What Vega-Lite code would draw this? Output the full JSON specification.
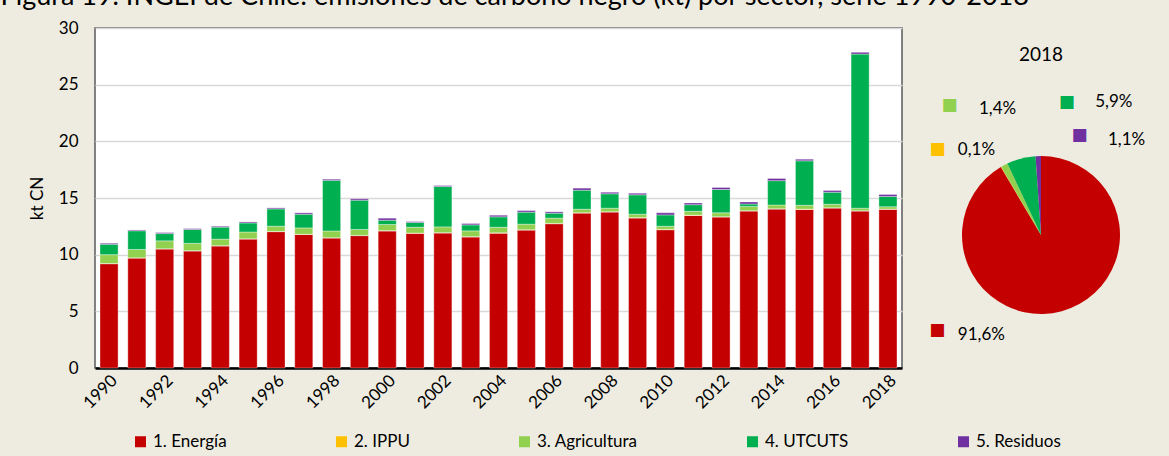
{
  "$schema": "https://vega.github.io/schema/vega-lite/v6.json",
  "background": "#EEECE1",
  "padding": {"left": 0, "top": -17, "right": 20, "bottom": 12},
  "bounds": "flush",
  "spacing": 23,
  "config": {
    "font": "Lato",
    "axis": {"labelFont": "Lato", "titleFont": "Lato", "labelColor": "black", "titleColor": "black"},
    "legend": {"labelFont": "Lato", "labelColor": "black"}
  },
  "title": {
    "text": "Figura 19. INGEI de Chile: emisiones de carbono negro (kt) por sector, serie 1990-2018",
    "anchor": "start",
    "frame": "bounds",
    "fontSize": 27,
    "fontWeight": "normal",
    "font": "Lato",
    "color": "black",
    "offset": 7,
    "dx": -27
  },
  "datasets": {
    "series": [
      {"year":1990,"sector":"1. Energía","value":9.2},{"year":1990,"sector":"2. IPPU","value":0.02},{"year":1990,"sector":"3. Agricultura","value":0.78},{"year":1990,"sector":"4. UTCUTS","value":0.92},{"year":1990,"sector":"5. Residuos","value":0.09},
      {"year":1991,"sector":"1. Energía","value":9.7},{"year":1991,"sector":"2. IPPU","value":0.02},{"year":1991,"sector":"3. Agricultura","value":0.74},{"year":1991,"sector":"4. UTCUTS","value":1.65},{"year":1991,"sector":"5. Residuos","value":0.07},
      {"year":1992,"sector":"1. Energía","value":10.5},{"year":1992,"sector":"2. IPPU","value":0.02},{"year":1992,"sector":"3. Agricultura","value":0.7},{"year":1992,"sector":"4. UTCUTS","value":0.64},{"year":1992,"sector":"5. Residuos","value":0.09},
      {"year":1993,"sector":"1. Energía","value":10.33},{"year":1993,"sector":"2. IPPU","value":0.02},{"year":1993,"sector":"3. Agricultura","value":0.65},{"year":1993,"sector":"4. UTCUTS","value":1.22},{"year":1993,"sector":"5. Residuos","value":0.08},
      {"year":1994,"sector":"1. Energía","value":10.77},{"year":1994,"sector":"2. IPPU","value":0.02},{"year":1994,"sector":"3. Agricultura","value":0.58},{"year":1994,"sector":"4. UTCUTS","value":1.06},{"year":1994,"sector":"5. Residuos","value":0.08},
      {"year":1995,"sector":"1. Energía","value":11.38},{"year":1995,"sector":"2. IPPU","value":0.02},{"year":1995,"sector":"3. Agricultura","value":0.6},{"year":1995,"sector":"4. UTCUTS","value":0.8},{"year":1995,"sector":"5. Residuos","value":0.09},
      {"year":1996,"sector":"1. Energía","value":12.03},{"year":1996,"sector":"2. IPPU","value":0.02},{"year":1996,"sector":"3. Agricultura","value":0.46},{"year":1996,"sector":"4. UTCUTS","value":1.53},{"year":1996,"sector":"5. Residuos","value":0.09},
      {"year":1997,"sector":"1. Energía","value":11.78},{"year":1997,"sector":"2. IPPU","value":0.02},{"year":1997,"sector":"3. Agricultura","value":0.56},{"year":1997,"sector":"4. UTCUTS","value":1.21},{"year":1997,"sector":"5. Residuos","value":0.12},
      {"year":1998,"sector":"1. Energía","value":11.47},{"year":1998,"sector":"2. IPPU","value":0.02},{"year":1998,"sector":"3. Agricultura","value":0.6},{"year":1998,"sector":"4. UTCUTS","value":4.47},{"year":1998,"sector":"5. Residuos","value":0.1},
      {"year":1999,"sector":"1. Energía","value":11.68},{"year":1999,"sector":"2. IPPU","value":0.02},{"year":1999,"sector":"3. Agricultura","value":0.52},{"year":1999,"sector":"4. UTCUTS","value":2.59},{"year":1999,"sector":"5. Residuos","value":0.12},
      {"year":2000,"sector":"1. Energía","value":12.09},{"year":2000,"sector":"2. IPPU","value":0.03},{"year":2000,"sector":"3. Agricultura","value":0.54},{"year":2000,"sector":"4. UTCUTS","value":0.38},{"year":2000,"sector":"5. Residuos","value":0.18},
      {"year":2001,"sector":"1. Energía","value":11.88},{"year":2001,"sector":"2. IPPU","value":0.03},{"year":2001,"sector":"3. Agricultura","value":0.51},{"year":2001,"sector":"4. UTCUTS","value":0.42},{"year":2001,"sector":"5. Residuos","value":0.08},
      {"year":2002,"sector":"1. Energía","value":11.91},{"year":2002,"sector":"2. IPPU","value":0.03},{"year":2002,"sector":"3. Agricultura","value":0.51},{"year":2002,"sector":"4. UTCUTS","value":3.56},{"year":2002,"sector":"5. Residuos","value":0.09},
      {"year":2003,"sector":"1. Energía","value":11.56},{"year":2003,"sector":"2. IPPU","value":0.03},{"year":2003,"sector":"3. Agricultura","value":0.51},{"year":2003,"sector":"4. UTCUTS","value":0.53},{"year":2003,"sector":"5. Residuos","value":0.12},
      {"year":2004,"sector":"1. Energía","value":11.9},{"year":2004,"sector":"2. IPPU","value":0.03},{"year":2004,"sector":"3. Agricultura","value":0.49},{"year":2004,"sector":"4. UTCUTS","value":0.92},{"year":2004,"sector":"5. Residuos","value":0.14},
      {"year":2005,"sector":"1. Energía","value":12.17},{"year":2005,"sector":"2. IPPU","value":0.03},{"year":2005,"sector":"3. Agricultura","value":0.49},{"year":2005,"sector":"4. UTCUTS","value":1.06},{"year":2005,"sector":"5. Residuos","value":0.14},
      {"year":2006,"sector":"1. Energía","value":12.73},{"year":2006,"sector":"2. IPPU","value":0.03},{"year":2006,"sector":"3. Agricultura","value":0.46},{"year":2006,"sector":"4. UTCUTS","value":0.44},{"year":2006,"sector":"5. Residuos","value":0.12},
      {"year":2007,"sector":"1. Energía","value":13.67},{"year":2007,"sector":"2. IPPU","value":0.03},{"year":2007,"sector":"3. Agricultura","value":0.31},{"year":2007,"sector":"4. UTCUTS","value":1.68},{"year":2007,"sector":"5. Residuos","value":0.18},
      {"year":2008,"sector":"1. Energía","value":13.76},{"year":2008,"sector":"2. IPPU","value":0.03},{"year":2008,"sector":"3. Agricultura","value":0.31},{"year":2008,"sector":"4. UTCUTS","value":1.27},{"year":2008,"sector":"5. Residuos","value":0.14},
      {"year":2009,"sector":"1. Energía","value":13.23},{"year":2009,"sector":"2. IPPU","value":0.04},{"year":2009,"sector":"3. Agricultura","value":0.3},{"year":2009,"sector":"4. UTCUTS","value":1.71},{"year":2009,"sector":"5. Residuos","value":0.15},
      {"year":2010,"sector":"1. Energía","value":12.2},{"year":2010,"sector":"2. IPPU","value":0.04},{"year":2010,"sector":"3. Agricultura","value":0.27},{"year":2010,"sector":"4. UTCUTS","value":1.0},{"year":2010,"sector":"5. Residuos","value":0.18},
      {"year":2011,"sector":"1. Energía","value":13.46},{"year":2011,"sector":"2. IPPU","value":0.03},{"year":2011,"sector":"3. Agricultura","value":0.33},{"year":2011,"sector":"4. UTCUTS","value":0.59},{"year":2011,"sector":"5. Residuos","value":0.15},
      {"year":2012,"sector":"1. Energía","value":13.32},{"year":2012,"sector":"2. IPPU","value":0.03},{"year":2012,"sector":"3. Agricultura","value":0.34},{"year":2012,"sector":"4. UTCUTS","value":2.06},{"year":2012,"sector":"5. Residuos","value":0.18},
      {"year":2013,"sector":"1. Energía","value":13.85},{"year":2013,"sector":"2. IPPU","value":0.03},{"year":2013,"sector":"3. Agricultura","value":0.38},{"year":2013,"sector":"4. UTCUTS","value":0.21},{"year":2013,"sector":"5. Residuos","value":0.18},
      {"year":2014,"sector":"1. Energía","value":14.02},{"year":2014,"sector":"2. IPPU","value":0.03},{"year":2014,"sector":"3. Agricultura","value":0.33},{"year":2014,"sector":"4. UTCUTS","value":2.15},{"year":2014,"sector":"5. Residuos","value":0.2},
      {"year":2015,"sector":"1. Energía","value":13.99},{"year":2015,"sector":"2. IPPU","value":0.03},{"year":2015,"sector":"3. Agricultura","value":0.34},{"year":2015,"sector":"4. UTCUTS","value":3.92},{"year":2015,"sector":"5. Residuos","value":0.15},
      {"year":2016,"sector":"1. Energía","value":14.11},{"year":2016,"sector":"2. IPPU","value":0.03},{"year":2016,"sector":"3. Agricultura","value":0.31},{"year":2016,"sector":"4. UTCUTS","value":1.06},{"year":2016,"sector":"5. Residuos","value":0.15},
      {"year":2017,"sector":"1. Energía","value":13.85},{"year":2017,"sector":"2. IPPU","value":0.03},{"year":2017,"sector":"3. Agricultura","value":0.22},{"year":2017,"sector":"4. UTCUTS","value":13.6},{"year":2017,"sector":"5. Residuos","value":0.15},
      {"year":2018,"sector":"1. Energía","value":14.0},{"year":2018,"sector":"2. IPPU","value":0.02},{"year":2018,"sector":"3. Agricultura","value":0.21},{"year":2018,"sector":"4. UTCUTS","value":0.9},{"year":2018,"sector":"5. Residuos","value":0.17}
    ],
    "pie": [
      {"sector":"1. Energía","pct":91.6,"label":"91,6%"},
      {"sector":"2. IPPU","pct":0.1,"label":"0,1%"},
      {"sector":"3. Agricultura","pct":1.4,"label":"1,4%"},
      {"sector":"4. UTCUTS","pct":5.9,"label":"5,9%"},
      {"sector":"5. Residuos","pct":1.1,"label":"1,1%"}
    ]
  },
  "resolve": {"scale": {"color": "shared"}, "legend": {"color": "shared"}},
  "hconcat": [
    {
      "width": 807,
      "height": 340,
      "view": {"fill": "white", "stroke": "#595959", "strokeWidth": 1.5},
      "data": {"name": "series"},
      "mark": {"type": "bar", "stroke": "white", "strokeWidth": 0.6, "strokeOpacity": 0.6},
      "encoding": {
        "x": {
          "field": "year", "type": "ordinal",
          "scale": {"paddingInner": 0.35, "paddingOuter": 0.18},
          "axis": {
            "title": null, "labelAngle": -45, "labelFontSize": 17, "ticks": false,
            "domainColor": "black", "domainWidth": 2.5, "labelPadding": 4,
            "values": [1990,1992,1994,1996,1998,2000,2002,2004,2006,2008,2010,2012,2014,2016,2018]
          }
        },
        "y": {
          "field": "value", "type": "quantitative", "stack": "zero",
          "scale": {"domain": [0, 30], "nice": false},
          "axis": {
            "title": "kt CN", "titleFontSize": 17, "titleFontWeight": "normal", "titlePadding": 12,
            "labelFontSize": 17, "labelPadding": 17, "ticks": false, "domain": false,
            "gridColor": "#D9D9D9", "gridWidth": 1.5, "values": [0,5,10,15,20,25,30]
          }
        },
        "color": {
          "field": "sector", "type": "nominal",
          "scale": {"domain": ["1. Energía","2. IPPU","3. Agricultura","4. UTCUTS","5. Residuos"], "range": ["#C40000","#FFC000","#92D050","#00B050","#7030A0"]},
          "legend": {
            "orient": "none", "legendX": 37, "legendY": 405, "direction": "horizontal", "columns": 5,
            "columnPadding": 106, "symbolType": "square", "symbolSize": 121, "symbolStrokeWidth": 0,
            "labelFontSize": 17, "labelOffset": 4, "title": null
          }
        },
        "order": {"field": "sector", "type": "ordinal", "sort": "ascending"}
      }
    },
    {
      "width": 232,
      "height": 414,
      "view": {"stroke": null, "fill": null},
      "data": {"name": "pie"},
      "layer": [
        {
          "mark": {"type": "arc", "outerRadius": 79},
          "encoding": {
            "theta": {"field": "pct", "type": "quantitative", "stack": true},
            "order": {"field": "sector", "type": "ordinal", "sort": "ascending"},
            "color": {"field": "sector", "type": "nominal", "legend": null,
              "scale": {"domain": ["1. Energía","2. IPPU","3. Agricultura","4. UTCUTS","5. Residuos"], "range": ["#C40000","#FFC000","#92D050","#00B050","#7030A0"]}}
          }
        },
        {
          "data": {"values": [{"t": "2018"}]},
          "mark": {"type": "text", "fontSize": 19, "align": "center", "baseline": "middle", "color": "black"},
          "encoding": {"text": {"field": "t", "type": "nominal"}, "theta": {"value": 0}, "radius": {"value": 180}}
        },
        {
          "mark": {"type": "text", "radius": 100, "dx": -86, "dy": 4, "fontSize": 17, "align": "center", "baseline": "middle", "color": "black"},
          "encoding": {
            "theta": {"field": "pct", "type": "quantitative", "stack": true},
            "order": {"field": "sector", "type": "ordinal", "sort": "ascending"},
            "text": {"condition": {"test": "datum.sector === '1. Energía'", "field": "label"}, "value": ""}
          }
        },
        {
          "mark": {"type": "text", "radius": 100, "dx": -14, "dy": 1, "fontSize": 17, "align": "center", "baseline": "middle", "color": "black"},
          "encoding": {
            "theta": {"field": "pct", "type": "quantitative", "stack": true},
            "order": {"field": "sector", "type": "ordinal", "sort": "ascending"},
            "text": {"condition": {"test": "datum.sector === '2. IPPU'", "field": "label"}, "value": ""}
          }
        },
        {
          "mark": {"type": "text", "radius": 100, "dx": 3, "dy": -37, "fontSize": 17, "align": "center", "baseline": "middle", "color": "black"},
          "encoding": {
            "theta": {"field": "pct", "type": "quantitative", "stack": true},
            "order": {"field": "sector", "type": "ordinal", "sort": "ascending"},
            "text": {"condition": {"test": "datum.sector === '3. Agricultura'", "field": "label"}, "value": ""}
          }
        },
        {
          "mark": {"type": "text", "radius": 100, "dx": 98, "dy": -36, "fontSize": 17, "align": "center", "baseline": "middle", "color": "black"},
          "encoding": {
            "theta": {"field": "pct", "type": "quantitative", "stack": true},
            "order": {"field": "sector", "type": "ordinal", "sort": "ascending"},
            "text": {"condition": {"test": "datum.sector === '4. UTCUTS'", "field": "label"}, "value": ""}
          }
        },
        {
          "mark": {"type": "text", "radius": 100, "dx": 89, "dy": 5, "fontSize": 17, "align": "center", "baseline": "middle", "color": "black"},
          "encoding": {
            "theta": {"field": "pct", "type": "quantitative", "stack": true},
            "order": {"field": "sector", "type": "ordinal", "sort": "ascending"},
            "text": {"condition": {"test": "datum.sector === '5. Residuos'", "field": "label"}, "value": ""}
          }
        },
        {
          "mark": {"type": "text", "radius": 100, "dx": -130, "dy": -1, "fontSize": 17, "font": "DejaVu Sans", "align": "center", "baseline": "middle"},
          "encoding": {
            "theta": {"field": "pct", "type": "quantitative", "stack": true},
            "order": {"field": "sector", "type": "ordinal", "sort": "ascending"},
            "color": {"field": "sector", "type": "nominal", "legend": null},
            "text": {"condition": {"test": "datum.sector === '1. Energía'", "value": "■"}, "value": ""}
          }
        },
        {
          "mark": {"type": "text", "radius": 100, "dx": -53, "dy": 0, "fontSize": 17, "font": "DejaVu Sans", "align": "center", "baseline": "middle"},
          "encoding": {
            "theta": {"field": "pct", "type": "quantitative", "stack": true},
            "order": {"field": "sector", "type": "ordinal", "sort": "ascending"},
            "color": {"field": "sector", "type": "nominal", "legend": null},
            "text": {"condition": {"test": "datum.sector === '2. IPPU'", "value": "■"}, "value": ""}
          }
        },
        {
          "mark": {"type": "text", "radius": 100, "dx": -45, "dy": -41, "fontSize": 17, "font": "DejaVu Sans", "align": "center", "baseline": "middle"},
          "encoding": {
            "theta": {"field": "pct", "type": "quantitative", "stack": true},
            "order": {"field": "sector", "type": "ordinal", "sort": "ascending"},
            "color": {"field": "sector", "type": "nominal", "legend": null},
            "text": {"condition": {"test": "datum.sector === '3. Agricultura'", "value": "■"}, "value": ""}
          }
        },
        {
          "mark": {"type": "text", "radius": 100, "dx": 51, "dy": -36, "fontSize": 17, "font": "DejaVu Sans", "align": "center", "baseline": "middle"},
          "encoding": {
            "theta": {"field": "pct", "type": "quantitative", "stack": true},
            "order": {"field": "sector", "type": "ordinal", "sort": "ascending"},
            "color": {"field": "sector", "type": "nominal", "legend": null},
            "text": {"condition": {"test": "datum.sector === '4. UTCUTS'", "value": "■"}, "value": ""}
          }
        },
        {
          "mark": {"type": "text", "radius": 100, "dx": 42, "dy": 0, "fontSize": 17, "font": "DejaVu Sans", "align": "center", "baseline": "middle"},
          "encoding": {
            "theta": {"field": "pct", "type": "quantitative", "stack": true},
            "order": {"field": "sector", "type": "ordinal", "sort": "ascending"},
            "color": {"field": "sector", "type": "nominal", "legend": null},
            "text": {"condition": {"test": "datum.sector === '5. Residuos'", "value": "■"}, "value": ""}
          }
        }
      ]
    }
  ]
}
